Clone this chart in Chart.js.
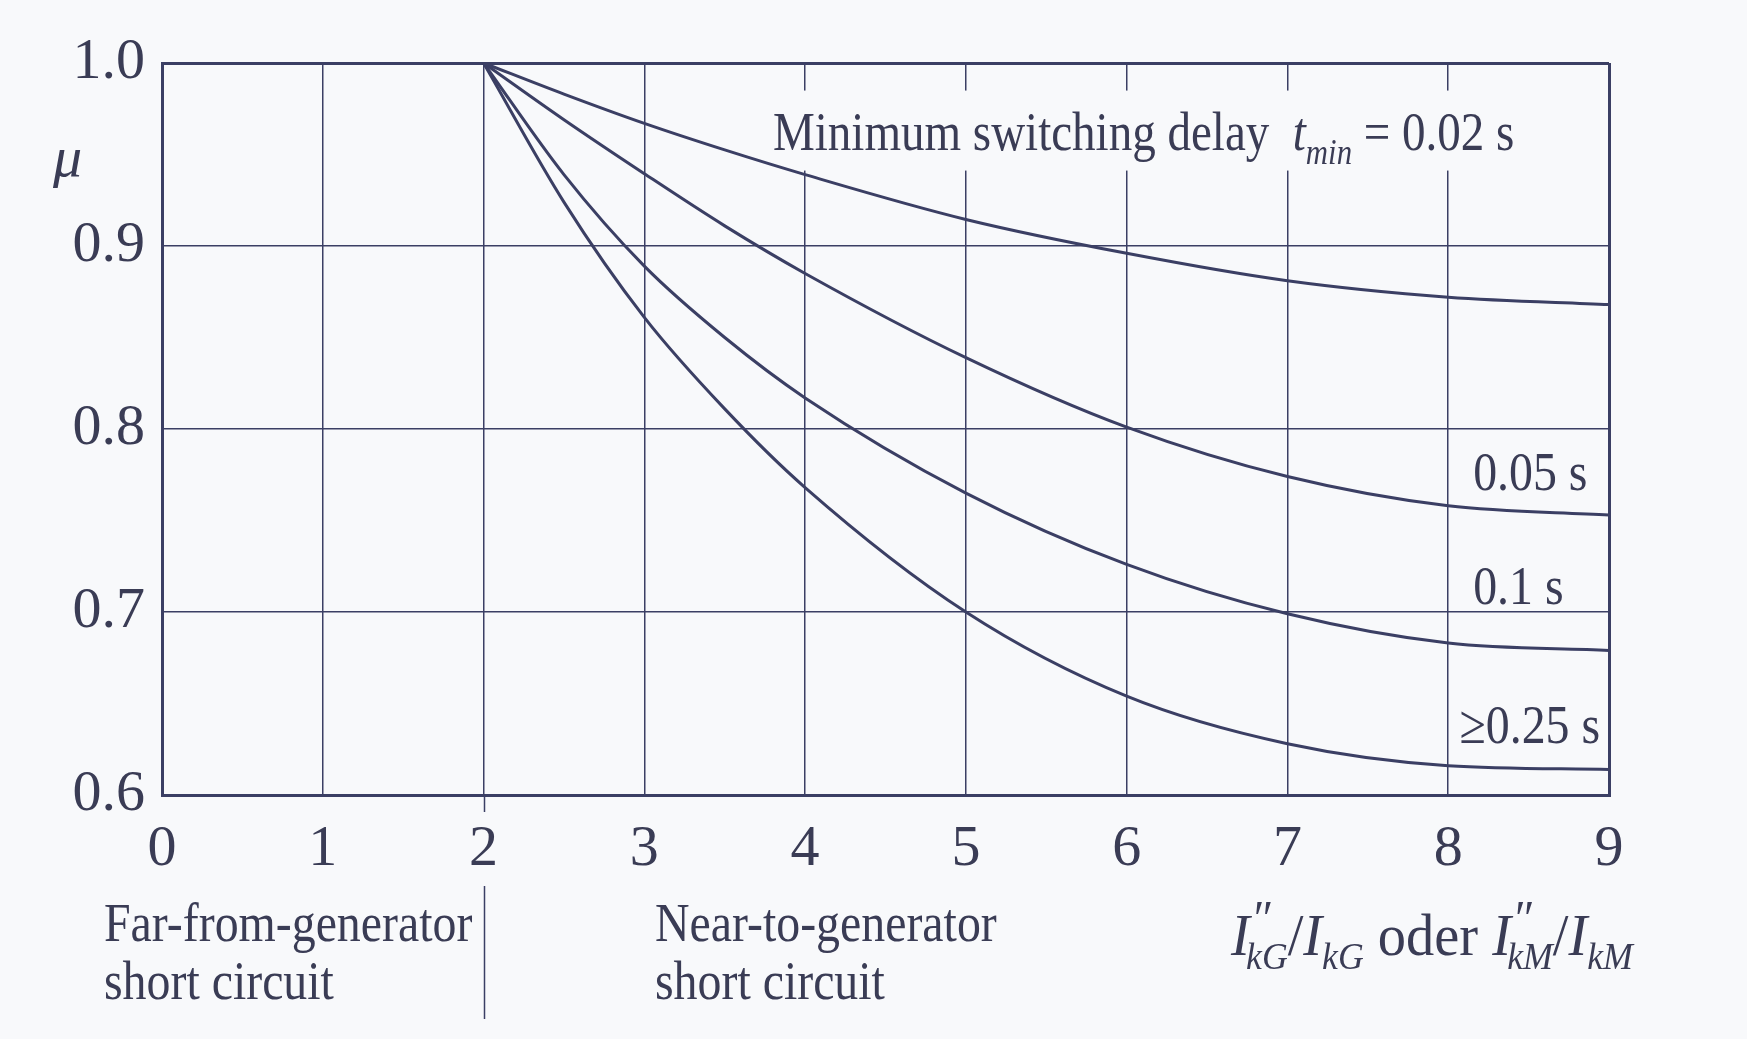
<!DOCTYPE html>
<html><head><meta charset="utf-8">
<script src="https://cdn.jsdelivr.net/npm/chart.js@4/dist/chart.umd.min.js"></script>
<style>html,body{margin:0;padding:0;background:#f8f9fb;}canvas{display:block}</style>
</head><body>
<canvas id="c" width="1747" height="1039"></canvas>
<script>
// ---- data ----
const xValues   = [2, 2.5, 3, 3.5, 4, 5, 6, 7, 8, 9];
const mu_002    = [1.0, 0.983, 0.967, 0.9525, 0.939, 0.9145, 0.896, 0.881, 0.872, 0.868];
const mu_005    = [1.0, 0.969, 0.9395, 0.911, 0.885, 0.839, 0.801, 0.774, 0.758, 0.753];
const mu_01     = [1.0, 0.939, 0.889, 0.850, 0.817, 0.765, 0.726, 0.699, 0.683, 0.679];
const mu_025    = [1.0, 0.924, 0.861, 0.811, 0.768, 0.700, 0.654, 0.628, 0.616, 0.614];
const seriesNames = ['0.02 s', '0.05 s', '0.1 s', '\u22650.25 s'];
const xTickValues = [0, 1, 2, 3, 4, 5, 6, 7, 8, 9];
const yTickValues = [0.6, 0.7, 0.8, 0.9, 1.0];
const regionLabels = [['Far-from-generator', 'short circuit'], ['Near-to-generator', 'short circuit']];

// ---- style ----
const INK = '#3b3f64';
const TXT = '#3a3c55';
const BG = '#f8f9fb';
const SERIF = '"Liberation Serif", "DejaVu Serif", serif';
const SQ = 0.87;
const FS = 55;

function fnt(size, italic) { return (italic ? 'italic ' : '') + size + 'px ' + SERIF; }
function drawRich(ctx, segs, x, y, sq) {
  ctx.save();
  ctx.translate(x, y);
  ctx.scale(sq, 1);
  ctx.fillStyle = TXT;
  ctx.textBaseline = 'alphabetic';
  ctx.textAlign = 'left';
  let cx = 0, prevW = 0, maxX = 0;
  segs.forEach(s => {
    ctx.font = fnt(s.size, s.italic);
    const w = ctx.measureText(s.t).width;
    if (s.back) cx -= prevW;
    cx += (s.dx || 0);
    ctx.fillText(s.t, cx, s.dy || 0);
    cx += w; prevW = w;
    maxX = Math.max(maxX, cx);
  });
  ctx.restore();
  return maxX * sq;
}

const annot = {
  id: 'annot',
  beforeDraw(chart) {
    const ctx = chart.ctx;
    ctx.save(); ctx.fillStyle = BG; ctx.fillRect(0, 0, chart.width, chart.height); ctx.restore();
  },
  beforeDatasetsDraw(chart) {
    const ctx = chart.ctx, xs = chart.scales.x, ys = chart.scales.y;
    // background patch behind the top label (hides grid lines)
    const lx = xs.getPixelForValue(3.80), by = ys.getPixelForValue(0.9527);
    ctx.save(); ctx.fillStyle = BG;
    ctx.fillRect(lx - 8, by - 59, 752, 80);
    ctx.restore();
  },
  afterDatasetsDraw(chart) {
    const ctx = chart.ctx, xs = chart.scales.x, ys = chart.scales.y, ca = chart.chartArea;
    // top label
    drawRich(ctx, [
      {t: 'Minimum switching delay  ', size: FS},
      {t: 't', size: FS, italic: true},
      {t: 'min', size: 36, italic: true, dy: 14},
      {t: ' = 0.02 s', size: FS}
    ], xs.getPixelForValue(3.80), ys.getPixelForValue(0.9527), 0.855);
    // curve labels
    drawRich(ctx, [{t: seriesNames[1], size: FS}], xs.getPixelForValue(8.155), ys.getPixelForValue(0.7667), SQ);
    drawRich(ctx, [{t: seriesNames[2], size: FS}], xs.getPixelForValue(8.155), ys.getPixelForValue(0.7045), SQ);
    drawRich(ctx, [{t: seriesNames[3], size: FS}], xs.getPixelForValue(8.07), ys.getPixelForValue(0.6282), SQ);
    // mu label
    drawRich(ctx, [{t: '\u03bc', size: 58, italic: true}], 53, ys.getPixelForValue(0.9385), 1);
    // tick below x=2 and separator
    const x2 = Math.round(xs.getPixelForValue(2)) + 0.5;
    ctx.save(); ctx.strokeStyle = INK; ctx.lineWidth = 1.5;
    ctx.beginPath(); ctx.moveTo(x2, ca.bottom); ctx.lineTo(x2, ca.bottom + 17); ctx.stroke();
    ctx.beginPath(); ctx.moveTo(x2, ca.bottom + 91); ctx.lineTo(x2, ca.bottom + 224); ctx.stroke();
    ctx.restore();
    // region texts
    const b1 = ca.bottom + 146, b2 = ca.bottom + 204;
    drawRich(ctx, [{t: regionLabels[0][0], size: FS}], 104, b1, SQ);
    drawRich(ctx, [{t: regionLabels[0][1], size: FS}], 104, b2, SQ);
    drawRich(ctx, [{t: regionLabels[1][0], size: FS}], 655, b1, SQ);
    drawRich(ctx, [{t: regionLabels[1][1], size: FS}], 655, b2, SQ);
    // axis title
    const S = 60, s = 38;
    drawRich(ctx, [
      {t: 'I', size: S, italic: true},
      {t: '\u2033', size: 50, italic: true, dy: -20, dx: 1},
      {t: 'kG', size: s, italic: true, dy: 14, back: true, dx: -5},
      {t: '/', size: S},
      {t: 'I', size: S, italic: true},
      {t: 'kG', size: s, italic: true, dy: 14},
      {t: ' oder ', size: S},
      {t: 'I', size: S, italic: true},
      {t: '\u2033', size: 50, italic: true, dy: -20, dx: 1},
      {t: 'kM', size: s, italic: true, dy: 14, back: true, dx: -5},
      {t: '/', size: S},
      {t: 'I', size: S, italic: true},
      {t: 'kM', size: s, italic: true, dy: 14}
    ], 1231, ca.bottom + 160, 0.94);
  }
};

function ds(data) {
  return {
    data: xValues.map((x, i) => ({x: x, y: data[i]})),
    borderColor: INK, borderWidth: 3, pointRadius: 0, fill: false,
    cubicInterpolationMode: 'monotone'
  };
}

new Chart(document.getElementById('c'), {
  type: 'line',
  data: { datasets: [ds(mu_002), ds(mu_005), ds(mu_01), ds(mu_025)] },
  options: {
    responsive: false, animation: false,
    layout: { padding: { left: 0, top: 63, right: 138, bottom: 0 } },
    plugins: { legend: { display: false }, tooltip: { enabled: false } },
    scales: {
      x: {
        type: 'linear', min: 0, max: 9,
        afterBuildTicks(sc) { sc.ticks = xTickValues.map(v => ({value: v})); },
        afterFit(sc) { sc.height = 244; },
        ticks: { font: { family: SERIF, size: 58 }, color: TXT, padding: 20, maxRotation: 0, autoSkip: false,
                 callback: v => String(v) },
        grid: { color: INK, drawTicks: false,
                lineWidth: c => (c.tick && (c.tick.value === 0 || c.tick.value === 9)) ? 3 : 1.5 },
        border: { display: true, color: INK, width: 3 }
      },
      y: {
        type: 'linear', min: 0.6, max: 1.0,
        afterBuildTicks(sc) { sc.ticks = yTickValues.map(v => ({value: v})); },
        afterFit(sc) { sc.width = 162; },
        ticks: { font: { family: SERIF, size: 58 }, color: TXT, padding: 17,
                 callback: v => Number(v).toFixed(1) },
        grid: { color: INK, drawTicks: false,
                lineWidth: c => (c.tick && (Math.abs(c.tick.value - 1) < 1e-6 || Math.abs(c.tick.value - 0.6) < 1e-6)) ? 3 : 1.5 },
        border: { display: true, color: INK, width: 3 }
      }
    }
  },
  plugins: [annot]
});
</script>
</body></html>
